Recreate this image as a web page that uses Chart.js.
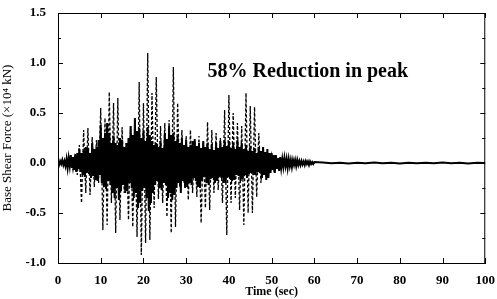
<!DOCTYPE html>
<html>
<head>
<meta charset="utf-8">
<script src="https://cdn.jsdelivr.net/npm/chart.js@4"></script>
<style>
  html, body { margin: 0; padding: 0; background: #fff; }
  #wrap { width: 497px; height: 299px; }
</style>
</head>
<body>
<div id="wrap"><canvas id="myChart" width="497" height="299"></canvas></div>
<script>
// Data

// uncontrolled response (dashed), one value every 0.5 s from t = 0
var dashStart = 0;
var dashStep = 0.5;
var dashForce = [
  0, -0.01, 0.02, -0.02, 0.03, -0.04, 0.06, -0.07, 0.1, -0.12,
  0.18, -0.4, 0.33, -0.3, 0.35, -0.32, 0.26, -0.24, 0.23, -0.2,
  0.55, -0.67, 0.45, -0.62, 0.71, -0.4, 0.6, -0.7, 0.65, -0.57,
  0.36, -0.3, 0.2, -0.57, 0.37, -0.64, 0.43, -0.74, 0.81, -0.92,
  0.6, -0.8, 1.1, -0.77, 0.7, -0.45, 0.86, -0.36, 0.37, -0.4,
  0.4, -0.54, 0.43, -0.7, 0.96, -0.64, 0.6, -0.24, 0.33, -0.2,
  0.27, -0.37, 0.33, -0.3, 0.22, -0.34, 0.27, -0.6, 0.2, -0.45,
  0.41, -0.47, 0.33, -0.3, 0.3, -0.27, 0.25, -0.4, 0.53, -0.72,
  0.68, -0.4, 0.5, -0.35, 0.4, -0.47, 0.37, -0.62, 0.7, -0.5,
  0.57, -0.5, 0.56, -0.34, 0.3, -0.2, 0.13, -0.08, 0.1, -0.07,
  0.08, -0.06, 0.06, -0.05, 0.05, -0.04, 0.05, -0.03, 0.04, -0.03,
  0.03, -0.02, 0.03, -0.02, 0.02, -0.01, 0.02, -0.01, 0.01, -0.01,
  0
];

// controlled response (solid), one value every 0.25 s from t = 0 to 60
var solidStart = 0;
var solidStep = 0.25;
var solidForce = [
  0.01, -0.02, 0.02, -0.01,   0.03, -0.02, 0.02, -0.03,
  0.04, -0.05, 0.05, -0.03,   0.08, -0.05, 0.06, -0.07,
  0.07, -0.09, 0.1, -0.06,    0.14, -0.09, 0.1, -0.12,
  0.12, -0.14, 0.16, -0.1,    0.15, -0.11, 0.1, -0.15,
  0.2, -0.13, 0.14, -0.17,    0.16, -0.18, 0.23, -0.12,
  0.38, -0.2, 0.25, -0.24,    0.3, -0.26, 0.4, -0.18,
  0.3, -0.22, 0.2, -0.3,      0.27, -0.35, 0.2, -0.25,
  0.18, -0.37, 0.25, -0.28,   0.23, -0.22, 0.16, -0.3,
  0.2, -0.28, 0.25, -0.2,     0.37, -0.25, 0.28, -0.35,
  0.45, -0.3, 0.32, -0.45,    0.35, -0.4, 0.25, -0.28,
  0.32, -0.25, 0.22, -0.35,   0.36, -0.48, 0.28, -0.4,
  0.22, -0.3, 0.18, -0.22,    0.2, -0.18, 0.16, -0.25,
  0.22, -0.27, 0.15, -0.2,    0.3, -0.22, 0.24, -0.35,
  0.37, -0.3, 0.28, -0.37,    0.3, -0.32, 0.22, -0.25,
  0.27, -0.2, 0.2, -0.3,      0.25, -0.18, 0.18, -0.25,
  0.23, -0.24, 0.16, -0.2,    0.18, -0.22, 0.22, -0.15,
  0.24, -0.18, 0.17, -0.24,   0.2, -0.25, 0.15, -0.18,
  0.22, -0.14, 0.16, -0.2,    0.2, -0.22, 0.14, -0.16,
  0.19, -0.15, 0.13, -0.2,    0.2, -0.18, 0.15, -0.14,
  0.22, -0.15, 0.16, -0.2,    0.23, -0.2, 0.17, -0.14,
  0.22, -0.16, 0.15, -0.18,   0.2, -0.17, 0.14, -0.12,
  0.23, -0.13, 0.16, -0.18,   0.2, -0.16, 0.14, -0.12,
  0.18, -0.15, 0.12, -0.11,   0.17, -0.1, 0.12, -0.12,
  0.15, -0.12, 0.1, -0.09,    0.16, -0.1, 0.12, -0.15,
  0.16, -0.12, 0.11, -0.17,   0.14, -0.15, 0.1, -0.1,
  0.1, -0.07, 0.08, -0.1,     0.08, -0.06, 0.05, -0.08,
  0.06, -0.05, 0.04, -0.04,   0.05, -0.03, 0.04, -0.05,
  0.04, -0.03, 0.03, -0.04,   0.03, -0.02, 0.03, -0.03,
  0.03, -0.02, 0.02, -0.02,   0.02, -0.015, 0.015, -0.02,
  0.02, -0.01, 0.015, -0.02,  0.015, -0.01, 0.01, -0.01,
  0.01
];

// quiet tail after 60 s
var tailTimes = [62, 64, 66, 68, 70, 72, 74, 76, 78, 80, 82, 84, 86, 88, 90, 92, 94, 96, 98, 100];
var tailForce = [0.004, -0.003, 0.003, -0.004, 0.003, -0.003, 0.004, -0.003, 0.003, -0.004,
                 0.003, -0.003, 0.003, -0.003, 0.004, -0.003, 0.003, -0.004, 0.003, 0];

var xTicks = [0, 10, 20, 30, 40, 50, 60, 70, 80, 90, 100];
var yTicks = [-1.0, -0.5, 0.0, 0.5, 1.0, 1.5];
var noteText = '58% Reduction in peak';

//-----------------

function toPoints(start, step, values){
    var pts = [];
    for (var i = 0; i < values.length; i++) {
        pts.push({x: start + i * step, y: values[i]});
    }
    return pts;
}

var solidPoints = toPoints(solidStart, solidStep, solidForce);
for (var i = 0; i < tailTimes.length; i++) {
    solidPoints.push({x: tailTimes[i], y: tailForce[i]});
}
var dashPoints = toPoints(dashStart, dashStep, dashForce);

var serif = '"Liberation Serif", "Times New Roman", serif';

// inward ticks on all four sides plus the top / right frame
var frameTicks = {
    id: 'frameTicks',
    afterDraw: function(chart){
        var ctx = chart.ctx;
        var a = chart.chartArea;
        var xs = chart.scales.x;
        var ys = chart.scales.y;
        ctx.save();
        ctx.strokeStyle = '#000';
        ctx.lineWidth = 1;
        ctx.beginPath();
        ctx.moveTo(a.left, a.top + 0.5);
        ctx.lineTo(a.right - 0.5, a.top + 0.5);
        ctx.lineTo(a.right - 0.5, a.bottom);
        xTicks.forEach(function(v){
            var px = Math.round(xs.getPixelForValue(v)) + 0.5;
            ctx.moveTo(px, a.bottom); ctx.lineTo(px, a.bottom - 5);
            ctx.moveTo(px, a.top); ctx.lineTo(px, a.top + 5);
        });
        for (var v = -1.0; v <= 1.5; v += 0.25) {
            var py = Math.round(ys.getPixelForValue(v)) + 0.5;
            var len = (Math.abs(v * 2 - Math.round(v * 2)) < 1e-6) ? 5 : 3;
            ctx.moveTo(a.left, py); ctx.lineTo(a.left + len, py);
            ctx.moveTo(a.right, py); ctx.lineTo(a.right - len, py);
        }
        ctx.stroke();

        ctx.fillStyle = '#000';
        ctx.font = 'bold 20px ' + serif;
        ctx.textBaseline = 'alphabetic';
        ctx.fillText(noteText, xs.getPixelForValue(35), ys.getPixelForValue(0.86));
        ctx.restore();
    }
};

var ctx = document.getElementById('myChart').getContext('2d');
var chart = new Chart(ctx, {
    type: 'line',
    data: {
        datasets: [{
            label: 'Uncontrolled',
            data: dashPoints,
            borderColor: '#000',
            borderWidth: 1.3,
            borderDash: [3, 2],
            pointRadius: 0,
            tension: 0
        }, {
            label: 'Controlled',
            data: solidPoints,
            borderColor: '#000',
            borderWidth: 2,
            pointRadius: 0,
            tension: 0
        }]
    },
    options: {
        responsive: false,
        animation: false,
        events: [],
        layout: { padding: { left: 0, right: 10, top: 13, bottom: 0 } },
        plugins: { legend: { display: false }, tooltip: { enabled: false } },
        scales: {
            x: {
                type: 'linear',
                min: 0, max: 100,
                afterBuildTicks: function(s){ s.ticks = xTicks.map(function(v){ return {value: v}; }); },
                afterFit: function(s){ s.height = 36; },
                grid: { display: false },
                border: { display: true, color: '#000', width: 1 },
                ticks: { color: '#000', padding: 2, maxRotation: 0, font: { family: serif, size: 13, weight: 'bold' } },
                title: { display: true, text: 'Time (sec)', color: '#000', padding: { top: 0, bottom: 0 },
                         font: { family: serif, size: 12, weight: 'bold' } }
            },
            y: {
                type: 'linear',
                min: -1.0, max: 1.5,
                afterBuildTicks: function(s){ s.ticks = yTicks.map(function(v){ return {value: v}; }); },
                afterFit: function(s){ s.width = 58; },
                grid: { display: false },
                border: { display: true, color: '#000', width: 1 },
                ticks: { color: '#000', padding: 4, font: { family: serif, size: 13, weight: 'bold' },
                         callback: function(v){ return Number(v).toFixed(1); } },
                title: { display: true, text: 'Base Shear Force (\u00d710\u2074 kN)', color: '#000',
                         padding: { top: 0, bottom: 1 }, font: { family: serif, size: 13 } }
            }
        }
    },
    plugins: [frameTicks]
});
</script>
</body>
</html>
